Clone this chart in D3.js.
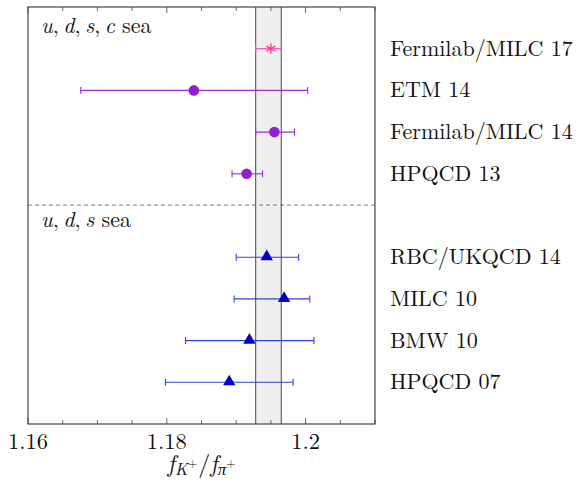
<!DOCTYPE html>
<html>
<head>
<meta charset="utf-8">
<script src="https://cdn.jsdelivr.net/npm/d3@7"></script>
<style>
  body { margin: 0; background: #fff; }
</style>
</head>
<body>
<div id="chart"></div>
<script>
// collaborations, in order from top to bottom
const labels = ['Fermilab/MILC 17', 'ETM 14', 'Fermilab/MILC 14', 'HPQCD 13',
  'RBC/UKQCD 14', 'MILC 10', 'BMW 10', 'HPQCD 07'];
const rows = [0, 1, 2, 3, 5, 6, 7, 8];
const centers = [1.1950, 1.1839, 1.1955, 1.1915, 1.1944, 1.1969, 1.1919, 1.1890];
const lows = [1.1928, 1.1676, 1.1928, 1.1894, 1.1900, 1.1897, 1.1827, 1.1798];
const highs = [1.1965, 1.2003, 1.1984, 1.1938, 1.1990, 1.2006, 1.2012, 1.1982];
const kinds = ['star', 'circle', 'circle', 'circle', 'tri', 'tri', 'tri', 'tri'];
const xTicks = [1.16, 1.18, 1.2];
const band = [1.1928, 1.1965];

const width = 576, height = 482;
const margin = { top: 7, right: 201, bottom: 58, left: 28 };
const serif = '"Latin Modern Roman", "CMU Serif", "Liberation Serif", serif';
const fs = 22;

const svg = d3.select('#chart').append('svg')
  .attr('width', width).attr('height', height);

const x = d3.scaleLinear()
  .domain([1.16, 1.21])
  .range([margin.left, width - margin.right]);

const y = d3.scaleLinear()
  .domain([-1, 9])
  .range([margin.top, height - margin.bottom]);

// grey averaging band
svg.append('rect')
  .attr('x', x(band[0])).attr('y', y(-1))
  .attr('width', x(band[1]) - x(band[0]))
  .attr('height', y(9) - y(-1))
  .attr('fill', '#efefef');
band.forEach(b => {
  svg.append('line')
    .attr('x1', x(b)).attr('x2', x(b))
    .attr('y1', y(-1)).attr('y2', y(9))
    .attr('stroke', '#666').attr('stroke-width', 1.2);
});

// separator between 2+1+1 and 2+1
svg.append('line')
  .attr('x1', x(1.16)).attr('x2', x(1.21))
  .attr('y1', y(3.75)).attr('y2', y(3.75))
  .attr('stroke', '#555').attr('stroke-dasharray', '4,3').attr('stroke-width', 0.8);

// ticks, pointing inward top and bottom
const minor = d3.range(1.16, 1.2101, 0.005);
minor.forEach(t => {
  const big = xTicks.some(v => Math.abs(v - t) < 1e-6);
  const len = big ? 6 : 4;
  svg.append('line').attr('x1', x(t)).attr('x2', x(t))
    .attr('y1', y(9)).attr('y2', y(9) - len)
    .attr('stroke', '#444').attr('stroke-width', 0.8);
  svg.append('line').attr('x1', x(t)).attr('x2', x(t))
    .attr('y1', y(-1)).attr('y2', y(-1) + len)
    .attr('stroke', '#444').attr('stroke-width', 0.8);
});

svg.selectAll('.tlab')
  .data(xTicks)
  .enter()
  .append('text')
  .attr('x', d => x(d))
  .attr('y', 449)
  .attr('text-anchor', 'middle')
  .style('font-family', serif)
  .style('font-size', '22.5px')
  .style('fill', '#111')
  .text(d => d3.format('')(d));

// frame
svg.append('rect')
  .attr('x', x(1.16)).attr('y', y(-1))
  .attr('width', x(1.21) - x(1.16))
  .attr('height', y(9) - y(-1))
  .attr('fill', 'none').attr('stroke', '#444').attr('stroke-width', 1.2);

// error bars and markers
const lineColor = k => k === 'star' ? '#ff44aa' : k === 'circle' ? '#9a2ee0' : '#3040dd';
const markColor = k => k === 'star' ? '#ff3399' : k === 'circle' ? '#9320d0' : '#0000cc';

labels.forEach((name, i) => {
  const yy = y(rows[i]);
  const k = kinds[i];
  const g = svg.append('g');
  g.append('line')
    .attr('x1', x(lows[i])).attr('x2', x(highs[i]))
    .attr('y1', yy).attr('y2', yy)
    .attr('stroke', lineColor(k)).attr('stroke-width', 1.1);
  [lows[i], highs[i]].forEach(v => {
    g.append('line')
      .attr('x1', x(v)).attr('x2', x(v))
      .attr('y1', yy - 3.5).attr('y2', yy + 3.5)
      .attr('stroke', lineColor(k)).attr('stroke-width', 1.1);
  });
  const cx = x(centers[i]);
  if (k === 'circle') {
    g.append('circle').attr('cx', cx).attr('cy', yy).attr('r', 5.3)
      .attr('fill', markColor(k));
  } else if (k === 'tri') {
    g.append('path')
      .attr('d', d3.symbol().type(d3.symbolTriangle).size(66)())
      .attr('transform', `translate(${cx},${yy - 0.5})`)
      .attr('fill', markColor(k));
  } else {
    g.append('path')
      .attr('d', d3.symbol().type(d3.symbolAsterisk).size(75)())
      .attr('transform', `translate(${cx},${yy})`)
      .attr('fill', 'none')
      .attr('stroke', markColor(k)).attr('stroke-width', 1.3);
  }
  svg.append('text')
    .attr('x', 390)
    .attr('y', yy + 7)
    .style('font-family', serif)
    .style('font-size', fs + 'px')
    .style('fill', '#111')
    .text(name);
});

// group headings
function heading(yBase, letters) {
  const t = svg.append('text')
    .attr('x', 41)
    .attr('y', yBase)
    .style('font-family', serif)
    .style('font-size', fs + 'px')
    .style('fill', '#111');
  letters.forEach((l, j) => {
    t.append('tspan').style('font-style', 'italic').text(l);
    if (j < letters.length - 1) t.append('tspan').text(',\u2009');
  });
  t.append('tspan').text(' sea');
}
heading(33, ['u', 'd', 's', 'c']);
heading(227, ['u', 'd', 's']);

// axis title
const xt = svg.append('text')
  .attr('x', (x(1.16) + x(1.21)) / 2)
  .attr('y', 472)
  .attr('text-anchor', 'middle')
  .style('font-family', serif)
  .style('font-size', '24px')
  .style('fill', '#111');
xt.append('tspan').style('font-style', 'italic').text('f');
xt.append('tspan').style('font-style', 'italic').style('font-size', '17px').attr('dy', 3).text('K');
xt.append('tspan').style('font-size', '12px').attr('dy', -8).text('+');
xt.append('tspan').attr('dy', 5).attr('dx', 1).text('/');
xt.append('tspan').style('font-style', 'italic').text('f');
xt.append('tspan').style('font-style', 'italic').style('font-size', '17px').attr('dy', 3).text('π');
xt.append('tspan').style('font-size', '12px').attr('dy', -8).text('+');
</script>
</body>
</html>
